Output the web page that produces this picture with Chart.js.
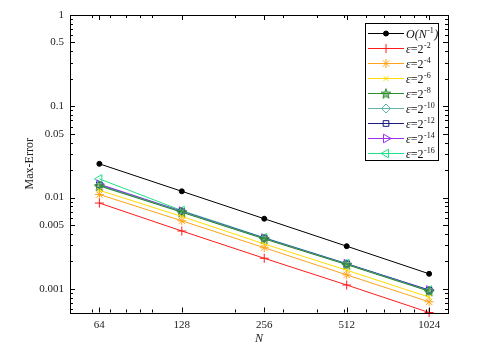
<!DOCTYPE html>
<html>
<head>
<meta charset="utf-8">
<script src="https://cdn.jsdelivr.net/npm/chart.js@4.4.1/dist/chart.umd.min.js"></script>
<style>
  html, body { margin: 0; padding: 0; background: #fff; }
  canvas { display: block; }
</style>
</head>
<body>
<canvas id="grafico" width="484" height="352"></canvas>
<script>
// datos
const valoresN = [64, 128, 256, 512, 1024];
const etiquetasX = ['64', '128', '256', '512', '1024'];
const ticksY = [1, 0.5, 0.1, 0.05, 0.01, 0.005, 0.001];
const etiquetasY = ['1', '0.5', '0.1', '0.05', '0.01', '0.005', '0.001'];
const menoresX = [60, 70, 80, 90, 100, 200, 300, 400, 500, 600, 700, 800, 900, 1000];

const ordenRef = [0.0234, 0.0117, 0.00586, 0.00293, 0.00146];
const eps2 = [0.0087, 0.0043, 0.00216, 0.00110, 0.00055];
const eps4 = [0.0108, 0.00556, 0.00282, 0.00142, 0.00072];
const eps6 = [0.0120, 0.0062, 0.0031, 0.00160, 0.00081];
const eps8 = [0.0134, 0.0069, 0.00352, 0.00184, 0.00094];
const eps10 = [0.0136, 0.0070, 0.00356, 0.00186, 0.00095];
const eps12 = [0.0137, 0.0070, 0.00358, 0.00187, 0.00096];
const eps14 = [0.0140, 0.0071, 0.00360, 0.00188, 0.00097];
const eps16 = [0.0160, 0.0072, 0.00364, 0.00189, 0.00097];

const baseLeyenda = ['O(N', 'ε=2', 'ε=2', 'ε=2', 'ε=2', 'ε=2', 'ε=2', 'ε=2', 'ε=2'];
const expLeyenda = ['-1', '-2', '-4', '-6', '-8', '-10', '-12', '-14', '-16'];

const fuente = "'Liberation Serif', 'DejaVu Serif', serif";
Chart.defaults.font.family = fuente;
Chart.defaults.color = '#222';

function crearEstrella(color) {
  const c = document.createElement('canvas');
  c.width = 12; c.height = 12;
  const g = c.getContext('2d');
  g.beginPath();
  for (let i = 0; i < 10; i++) {
    const r = i % 2 === 0 ? 5.2 : 2.3;
    const a = -Math.PI / 2 + i * Math.PI / 5;
    const px = 6 + r * Math.cos(a), py = 6.5 + r * Math.sin(a);
    if (i === 0) g.moveTo(px, py); else g.lineTo(px, py);
  }
  g.closePath();
  g.fillStyle = 'rgba(60,150,60,0.55)';
  g.fill();
  g.strokeStyle = color;
  g.lineWidth = 1;
  g.stroke();
  return c;
}

const hueco = 'rgba(255,255,255,0)';
const series = [
  { datos: ordenRef, color: '#000000', estilo: 'circle', radio: 2.5, relleno: '#000000', rot: 0 },
  { datos: eps2, color: '#ff1a1a', estilo: 'cross', radio: 4.5, relleno: hueco, rot: 0 },
  { datos: eps4, color: '#ffa31a', estilo: 'star', radio: 4.5, relleno: hueco, rot: 0 },
  { datos: eps6, color: '#ffdd00', estilo: 'crossRot', radio: 3.5, relleno: hueco, rot: 0 },
  { datos: eps8, color: '#2e8b2e', estilo: crearEstrella('#2e8b2e'), radio: 5, relleno: hueco, rot: 0 },
  { datos: eps10, color: '#5fb3aa', estilo: 'rectRot', radio: 4.5, relleno: hueco, rot: 0 },
  { datos: eps12, color: '#1a1a80', estilo: 'rect', radio: 4, relleno: hueco, rot: 0 },
  { datos: eps14, color: '#9933ee', estilo: 'triangle', radio: 5, relleno: hueco, rot: 90 },
  { datos: eps16, color: '#1de38a', estilo: 'triangle', radio: 5, relleno: hueco, rot: -90 }
];

const datasets = series.map((s, i) => ({
  label: baseLeyenda[i] + expLeyenda[i],
  data: valoresN.map((n, k) => ({ x: n, y: s.datos[k] })),
  borderColor: s.color,
  borderWidth: 1,
  pointStyle: s.estilo,
  pointRadius: s.radio,
  pointRotation: s.rot,
  pointBorderColor: s.color,
  pointBackgroundColor: s.relleno,
  pointBorderWidth: 1,
  tension: 0,
  clip: false
}));

// marco y marcas hacia adentro en los cuatro lados
const marcoPlugin = {
  id: 'marco',
  afterDatasetsDraw(chart) {
    const ctx = chart.ctx;
    const a = chart.chartArea;
    const sx = chart.scales.x, sy = chart.scales.y;
    ctx.save();
    ctx.strokeStyle = '#000';
    ctx.lineWidth = 1;
    ctx.strokeRect(Math.round(a.left) + 0.5, Math.round(a.top) + 0.5,
      Math.round(a.right - a.left), Math.round(a.bottom - a.top));
    ctx.beginPath();
    const marcaX = (v, len) => {
      const px = Math.round(sx.getPixelForValue(v)) + 0.5;
      ctx.moveTo(px, a.bottom); ctx.lineTo(px, a.bottom - len);
      ctx.moveTo(px, a.top); ctx.lineTo(px, a.top + len);
    };
    const marcaY = (v, len) => {
      const py = Math.round(sy.getPixelForValue(v)) + 0.5;
      ctx.moveTo(a.left, py); ctx.lineTo(a.left + len, py);
      ctx.moveTo(a.right, py); ctx.lineTo(a.right - len, py);
    };
    valoresN.forEach(v => marcaX(v, 5));
    menoresX.forEach(v => marcaX(v, 3));
    for (let e = -4; e <= 0; e++) {
      for (let m = 1; m <= 9; m++) {
        const v = m * Math.pow(10, e);
        if (v < sy.min || v > sy.max) continue;
        marcaY(v, ticksY.some(t => Math.abs(t - v) / v < 1e-6) ? 5 : 3);
      }
    }
    ctx.stroke();
    ctx.restore();
  },
  afterDraw(chart) {
    const ctx = chart.ctx;
    const bx = 365, by = 23, bw = 73, bh = 137;
    ctx.save();
    ctx.fillStyle = '#fff';
    ctx.fillRect(bx, by, bw, bh);
    ctx.strokeStyle = '#000';
    ctx.lineWidth = 1;
    ctx.strokeRect(bx + 0.5, by + 0.5, bw, bh);
    series.forEach((s, i) => {
      const y = 33.5 + i * 15;
      ctx.strokeStyle = s.color;
      ctx.lineWidth = 1;
      ctx.beginPath();
      ctx.moveTo(368, y); ctx.lineTo(404, y);
      ctx.stroke();
      ctx.fillStyle = s.relleno;
      if (Chart.helpers && Chart.helpers.drawPoint) {
        Chart.helpers.drawPoint(ctx, { pointStyle: s.estilo, radius: s.radio, rotation: s.rot, borderWidth: 1 }, 386, y);
      }
      // texto con superindice
      ctx.fillStyle = '#111';
      ctx.textBaseline = 'middle';
      ctx.textAlign = 'left';
      let x = 406;
      const base = baseLeyenda[i];
      if (i === 0) {
        ctx.font = 'italic 12px ' + fuente;
        ctx.fillText(base, x, y + 1);
        x += ctx.measureText(base).width;
      } else {
        ctx.font = 'italic 12px ' + fuente;
        ctx.fillText('ε', x, y + 1);
        x += ctx.measureText('ε').width;
        ctx.font = '12px ' + fuente;
        ctx.fillText('=2', x, y + 1);
        x += ctx.measureText('=2').width;
      }
      ctx.font = '8px ' + fuente;
      ctx.fillText(expLeyenda[i], x + 0.5, y - 3);
      x += ctx.measureText(expLeyenda[i]).width + 0.5;
      if (i === 0) {
        ctx.font = 'italic 12px ' + fuente;
        ctx.fillText(')', x + 0.5, y + 1);
      }
    });
    ctx.restore();
  }
};

new Chart(document.getElementById('grafico'), {
  type: 'line',
  data: { datasets },
  options: {
    responsive: false,
    animation: false,
    events: [],
    layout: { padding: { top: 15, right: 36, left: 0, bottom: 0 } },
    plugins: { legend: { display: false }, tooltip: { enabled: false } },
    scales: {
      x: {
        type: 'logarithmic',
        min: 50,
        max: 1200,
        grid: { display: false, drawTicks: false },
        border: { display: false },
        afterBuildTicks: (scale) => { scale.ticks = valoresN.map(v => ({ value: v })); },
        afterFit: (scale) => { scale.height = 39.5; },
        ticks: {
          autoSkip: false,
          maxRotation: 0,
          padding: 6,
          color: '#222',
          font: { size: 11 },
          callback: (v) => etiquetasX[valoresN.indexOf(v)]
        },
        title: { display: true, text: 'N', padding: { top: 0, bottom: 6 }, color: '#222', font: { size: 12, style: 'italic' } }
      },
      y: {
        type: 'logarithmic',
        min: 0.00055,
        max: 1,
        grid: { display: false, drawTicks: false },
        border: { display: false },
        afterBuildTicks: (scale) => { scale.ticks = ticksY.map(v => ({ value: v })); },
        afterFit: (scale) => { scale.width = 70; },
        ticks: {
          autoSkip: false,
          padding: 6,
          color: '#222',
          font: { size: 11 },
          callback: (v) => {
            const i = ticksY.findIndex(t => Math.abs(t - v) / t < 1e-6);
            return i >= 0 ? etiquetasY[i] : '';
          }
        },
        title: { display: true, text: 'Max-Error', padding: { top: 23, bottom: 0 }, color: '#222', font: { size: 12 } }
      }
    }
  },
  plugins: [marcoPlugin]
});
</script>
</body>
</html>
